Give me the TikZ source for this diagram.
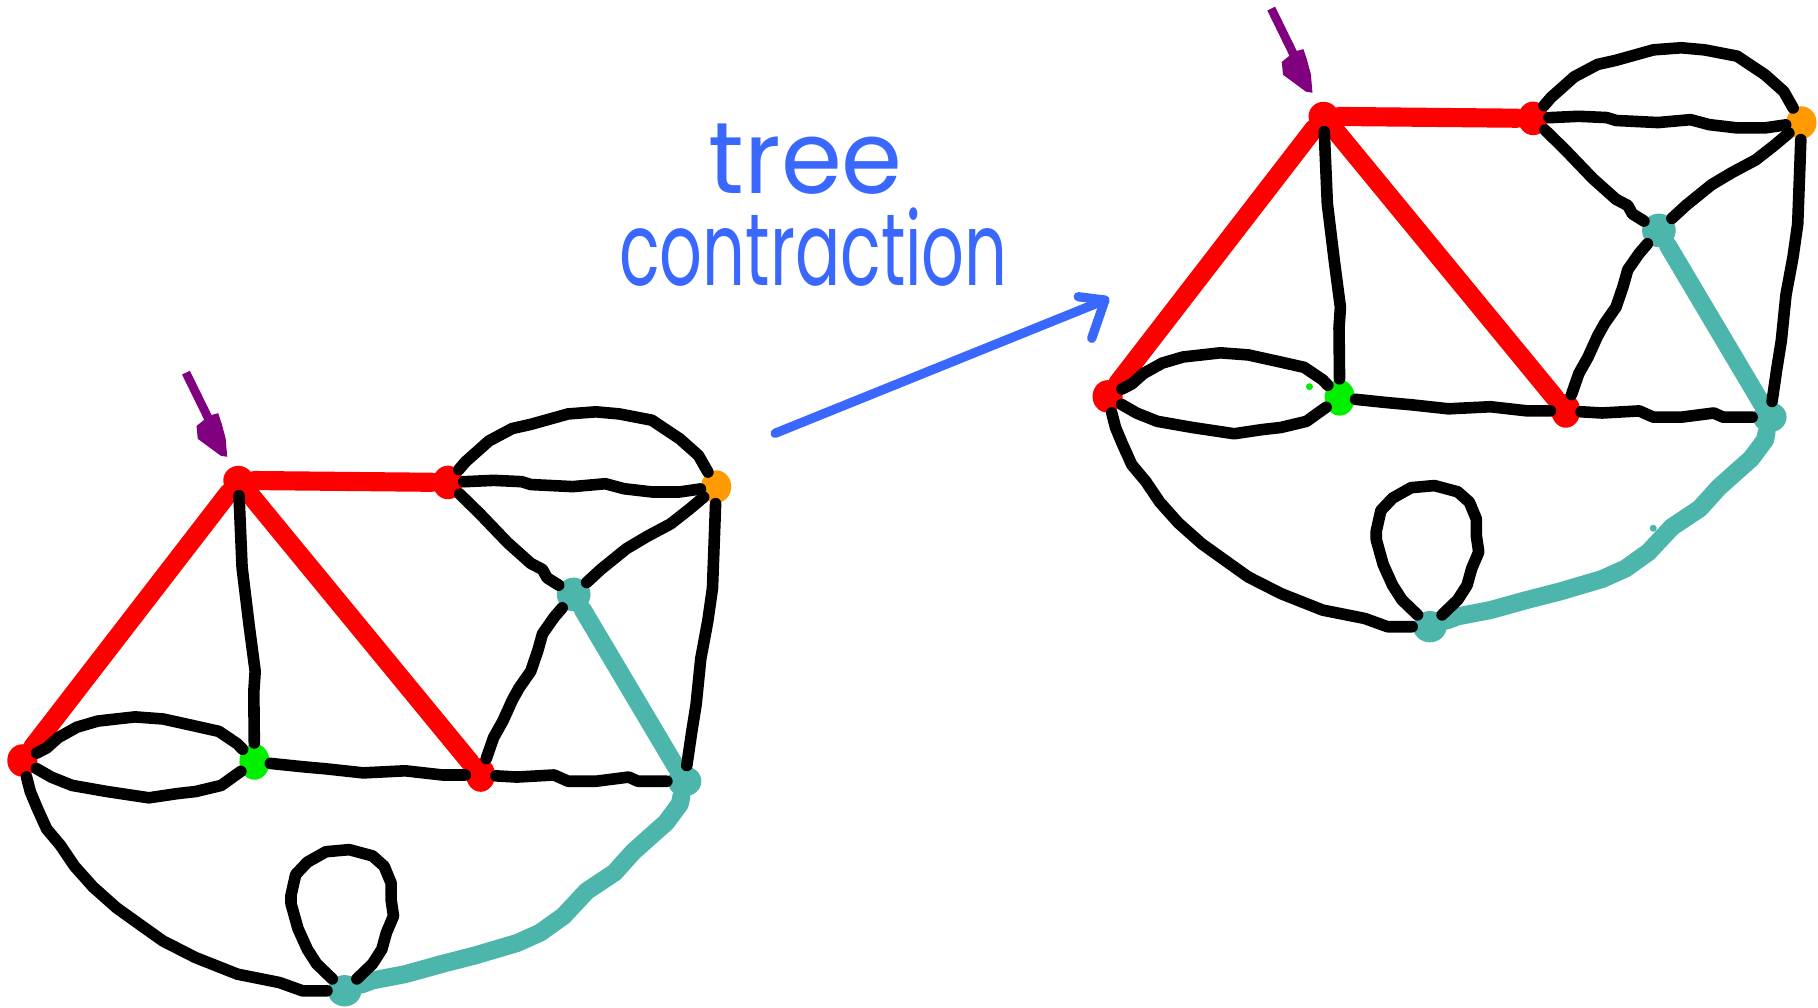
\documentclass[tikz,border=0pt]{standalone}
\usepackage{fontspec}
\usetikzlibrary{shapes.geometric}
\newfontfamily\handfont{Poppins}
\definecolor{gred}{HTML}{FF0000}
\definecolor{ggreen}{HTML}{00F000}
\definecolor{gorange}{HTML}{FF9A00}
\definecolor{gteal}{HTML}{4DB6AC}
\definecolor{gblue}{HTML}{3A68FF}
\definecolor{gpurple}{HTML}{800080}
\tikzset{
  blk/.style={line width=0.1cm, black, line cap=round, line join=round},
  thickred/.style={line width=0.165cm, gred, line cap=round, line join=round},
  thickteal/.style={line width=0.155cm, gteal, line cap=round, line join=round},
  gdot/.style={ellipse, inner sep=0pt, draw=none},
  rdot/.style={gdot, fill=gred},
  bluepen/.style={line width=0.08cm, gblue, line cap=round, line join=round},
  wordnode/.style={anchor=base west, inner sep=0pt, text=gblue},
}
\newcommand\mygraph[1]{%
  % marker arrow
  \coordinate (#1pt) at (160.4,321.4);
  \coordinate (#1pe) at (179.7,360.8);
  \draw[gpurple, line width=0.075cm, line cap=butt] (#1pt) -- (#1pe);
  \fill[gpurple] (169.5,367.4) -- (180.6,358.4) -- (188.2,356.4) -- (191.1,365.1) -- (194.6,378) -- (196,394) -- (190.3,393) -- (179.7,385.2) -- (170.6,378.5) -- cycle;
  % vertices
  \node[rdot, minimum width=0.26cm, minimum height=0.25cm] (#1A) at (205.6,414.3) {};
  \node[rdot, minimum width=0.26cm, minimum height=0.29cm] (#1B) at (386.3,416.1) {};
  \node[gdot, fill=gorange, minimum width=0.26cm, minimum height=0.28cm] (#1C) at (617.7,419.7) {};
  \node[gdot, fill=gteal, minimum width=0.29cm, minimum height=0.29cm] (#1D) at (494.8,512.7) {};
  \node[rdot, minimum width=0.26cm, minimum height=0.28cm] (#1E) at (19.3,655.9) {};
  \node[gdot, fill=ggreen, minimum width=0.26cm, minimum height=0.31cm] (#1F) at (219.5,657) {};
  \node[rdot, minimum width=0.25cm, minimum height=0.29cm] (#1G) at (414.5,668.4) {};
  \node[gdot, fill=gteal, minimum width=0.29cm, minimum height=0.26cm] (#1H) at (590.4,673.8) {};
  \node[gdot, fill=gteal, minimum width=0.29cm, minimum height=0.27cm] (#1I) at (297.2,854.5) {};
  % tree edges
  \draw[thickred] (#1A) -- (#1B);
  \draw[thickred] (#1A) -- (#1E);
  \draw[thickred] (#1A) -- (#1G);
  \draw[thickteal] (#1D) -- (#1H);
  \draw[thickteal] (#1H) -- (586.3,693.5) -- (574.3,709.6) -- (562.2,720.3) -- (546.2,734.6) -- (530.1,752.5) -- (506,768.6) -- (485.9,790.1) -- (465.9,804.4) -- (445.8,813.4) -- (409.6,824.1) -- (381.5,831.3) -- (349.4,840.2) -- (321.3,845.6) -- (#1I);
  % other edges
  \draw[blk] (#1A) -- (208.8,489.5) -- (214.9,539.6) -- (220.1,579) -- (218.9,596.8) -- (#1F);
  \draw[blk] (#1B) -- (425.7,414.3) -- (449.8,415.4) -- (457.8,417.9) -- (494,419.7) -- (522.1,417.2) -- (538.2,421.5) -- (562.2,424.3) -- (586.3,424.3) -- (#1C);
  \draw[blk] (#1B) -- (401.6,398.2) -- (421.7,380.3) -- (441.8,369.6) -- (457.8,366) -- (490,357) -- (514,355.2) -- (534.1,357) -- (562.2,362.4) -- (586.3,378.5) -- (602.4,392.8) -- (#1C);
  \draw[blk] (#1B) -- (413.7,442.9) -- (437.8,468) -- (457.8,485.9) -- (467.9,491.2) -- (471.9,498.4) -- (#1D);
  \draw[blk] (#1C) -- (594.4,439.3) -- (578.3,451.9) -- (558.2,462.6) -- (540.2,473.3) -- (518.1,491.2) -- (#1D);
  \draw[blk] (#1C) -- (616.5,453.7) -- (614.5,507.3) -- (610.4,536) -- (604.4,568.2) -- (600.4,607.6) -- (596.4,632.6) -- (#1H);
  \draw[blk] (#1D) -- (477.9,532.4) -- (467.9,546.7) -- (463.9,561) -- (457.8,578.9) -- (447.8,593.2) -- (441.8,604) -- (433.7,621.9) -- (425.7,636.2) -- (#1G);
  \draw[blk] (#1E) -- (40.2,645.1) -- (50.2,636.2) -- (66.3,627.2) -- (84.3,621.9) -- (116.5,618.3) -- (140.6,620.1) -- (164.7,625.4) -- (188.8,630.8) -- (204.8,641.6) -- (#1F);
  \draw[blk] (#1E) -- (44.2,670.2) -- (62.2,677.4) -- (92.4,682.7) -- (128.5,688.1) -- (152.6,684.5) -- (168.7,682.7) -- (190.8,677.4) -- (200.8,670.2) -- (#1F);
  \draw[blk] (#1F) -- (261,661.3) -- (281.1,663.1) -- (313.3,666.6) -- (349.4,664.8) -- (381.5,668.4) -- (#1G);
  \draw[blk] (#1G) -- (445.8,670.2) -- (477.9,668.4) -- (490,673.8) -- (514.1,673.8) -- (542.2,670.2) -- (550.2,673.8) -- (#1H);
  \draw[blk] (#1E) -- (26.1,682.7) -- (32.1,697) -- (40.2,714.9) -- (52.2,729.2) -- (64.3,747.1) -- (80.3,765) -- (100.4,782.9) -- (120.5,797.3) -- (140.6,811.6) -- (168.7,825.9) -- (204.8,840.2) -- (241,847.4) -- (261,854.6) -- (#1I);
  \draw[blk] (#1I) -- (273.1,831.3) -- (265.1,818.8) -- (257,800.9) -- (251,779.4) -- (251,772.2) -- (255,754.3) -- (265.1,743.6) -- (281.1,734.6) -- (301.2,732.8) -- (321.3,738.2) -- (331.3,747.1) -- (337.3,761.5) -- (337.3,775.8) -- (339.4,790.1) -- (333.3,804.4) -- (329.3,818.8) -- (321.3,831.3) -- (#1I);
}
\begin{document}
\begin{tikzpicture}[x=0.01cm, y=-0.01cm]
  \useasboundingbox (0,0) rectangle (1568,869);
  \fill[white] (0,0) rectangle (1568,869);
  % left graph
  \mygraph{L}
  % right graph (copy)
  \begin{scope}[shift={(936,-314)}]
    \mygraph{R}
  \end{scope}
  % small specks in the right copy
  \fill[ggreen] (1129.4,333.5) circle[radius=0.03cm];
  \fill[gteal] (1425.9,455.6) circle[radius=0.03cm];
  % label
  \node[wordnode] (w1) at (610.7,166.5) {\resizebox{1.67cm}{0.6cm}{\handfont tree}};
  \node[wordnode] (w2) at (533.3,246) {\resizebox{3.35cm}{0.67cm}{\handfont contraction}};
  % arrow
  \coordinate (arrS) at (668.5,373.7);
  \coordinate (arrE) at (953,258.8);
  \coordinate (barbA) at (930,255.9);
  \coordinate (barbB) at (941.6,291.8);
  \draw[bluepen] (arrS) -- (arrE);
  \draw[bluepen] (barbA) -- (arrE) -- (barbB);
\end{tikzpicture}
\end{document}
